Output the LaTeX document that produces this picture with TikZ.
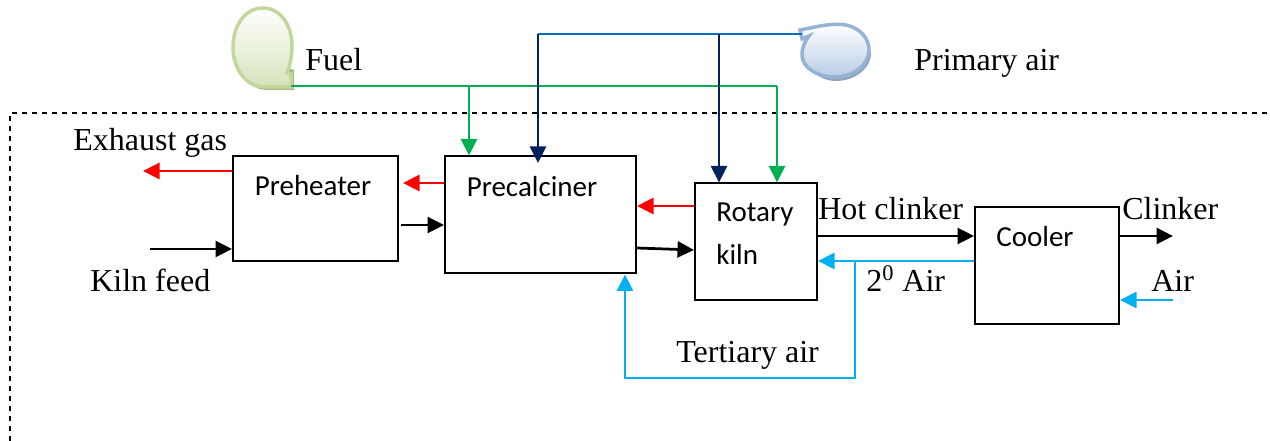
\documentclass[tikz,border=0pt]{standalone}
\usepackage{fontspec}
\setmainfont{Liberation Serif}
\newfontfamily\boxfont{Carlito}
\usetikzlibrary{arrows.meta}
\definecolor{flowGreen}{RGB}{0, 176, 80}
\definecolor{flowRed}{RGB}{255, 0, 0}
\definecolor{flowCyan}{RGB}{0, 176, 240}
\definecolor{flowNavy}{RGB}{0, 32, 96}
\definecolor{flowBlue}{RGB}{0, 112, 192}
\definecolor{fuelEdge}{RGB}{195, 214, 155}
\definecolor{fuelFill}{RGB}{214, 227, 188}
\definecolor{fuelShade}{RGB}{170, 186, 135}
\definecolor{airEdge}{RGB}{149, 179, 215}
\definecolor{airFill}{RGB}{184, 204, 228}
\definecolor{airShade}{RGB}{150, 165, 190}
\newcommand{\px}{0.2mm}
\tikzset{
  Block/.style    = {draw=black, line width=0.4mm, inner sep=0pt, anchor=north west},
  Lbl/.style      = {font=\fontsize{18.2}{22}\selectfont, inner sep=0pt},
  BoxLbl/.style   = {font=\boxfont\fontsize{16.5}{20}\selectfont, inner sep=0pt},
  Flow/.style     = {line width=0.55mm, -{Triangle[length=3.3mm, width=3.2mm]}},
  ThinFlow/.style = {line width=0.45mm, -{Triangle[length=3.3mm, width=3.2mm]}},
  Pipe/.style     = {line width=0.45mm},
  Frame/.style    = {line width=0.5mm, dash pattern=on 1mm off 1mm},
}

\begin{document}
\begin{tikzpicture}[x=\px, y=-\px]
\useasboundingbox (0,0) rectangle (1270,441);

% ======================= dashed boundary =================================
\draw[Frame] (10,441) -- (10,113) -- (1270,113);

% ======================= blocks ==========================================
\node[Block, minimum width=165*\px, minimum height=104.5*\px] (Preheater)   at (232,155.5) {};
\node[Block, minimum width=191*\px, minimum height=117*\px] (Precalciner) at (444,155.5) {};
\node[Block, minimum width=122*\px, minimum height=117*\px] (Kiln)        at (694,182.5) {};
\node[Block, minimum width=144*\px, minimum height=117*\px] (Cooler)      at (974,206.5) {};

\node[BoxLbl] (PreheaterLab)   at (313,186) {Preheater};
\node[BoxLbl] (PrecalcinerLab) at (532,187) {Precalciner};
\node[BoxLbl, anchor=west] (KilnLabA) at (716,215) {Rotary};
\node[BoxLbl, anchor=west] (KilnLabB) at (716,254) {kiln};
\node[BoxLbl] (CoolerLab)      at (1035,237) {Cooler};

% ======================= fans ============================================
\fill[fuelShade] (294,90) -- (268,90) .. controls (245,90) and (236,68) .. (236,50)
   -- (294,70) -- cycle;
\draw[fuelEdge, line width=0.7mm, top color=white, bottom color=fuelFill]
   (291,87) -- (265,87) .. controls (244,87) and (233,66) .. (233,48)
   .. controls (233,24) and (246,8) .. (263,8)
   .. controls (281,8) and (292,26) .. (292,46)
   .. controls (292,56) and (290,65) .. (287,73) -- (291,74) -- cycle;
\fill[airShade] (805,58) .. controls (807,70) and (820,81) .. (836,81)
   .. controls (855,81) and (872,68) .. (871,52) -- cycle;
\draw[airEdge, line width=0.7mm, top color=white, bottom color=airFill]
   (800,30) -- (820,26) .. controls (832,24) and (840,24) .. (846,25)
   .. controls (860,28) and (869,38) .. (869,50)
   .. controls (869,65) and (853,77) .. (835,77)
   .. controls (818,77) and (802,68) .. (802,55)
   .. controls (802,47) and (805,41) .. (809,36) -- (802,39) -- cycle;

% ======================= junctions and free ends =========================
\coordinate (FuelOut)   at (291,86);
\coordinate (FuelTeeA)  at (469,86);
\coordinate (FuelTeeB)  at (777,86);
\coordinate (AirOut)    at (802,34);
\coordinate (AirTeeA)   at (538,34);
\coordinate (AirTeeB)   at (719,34);
\coordinate (AirTipA)   at (538,163);
\coordinate (ExhaustEnd) at (143,171);
\coordinate (FeedStart) at (150,249);
\coordinate (PreRedEnd) at (403,183);
\coordinate (PreBlackStart) at (401,225);
\coordinate (KilnRedY)  at (0,206);
\coordinate (KilnBlackA) at (0,248);
\coordinate (KilnBlackB) at (0,250);
\coordinate (HotY)      at (0,236);
\coordinate (SecY)      at (0,261);
\coordinate (TeeSec)    at (855,261);
\coordinate (TerA)      at (855,378);
\coordinate (TerB)      at (625,378);
\coordinate (ClinkerEnd) at (1173,236);
\coordinate (AirStart)  at (1173,300);

% ======================= flows ===========================================
\draw[Pipe, flowGreen] (FuelOut) -- (FuelTeeB);
\draw[ThinFlow, flowGreen] (FuelTeeA) -- (FuelTeeA |- Precalciner.north);
\draw[ThinFlow, flowGreen] (FuelTeeB) -- (FuelTeeB |- Kiln.north);
\draw[Pipe, flowBlue]  (AirOut) -- (AirTeeA);
\draw[ThinFlow, flowNavy]  (AirTeeA) -- (AirTipA);
\draw[ThinFlow, flowNavy]  (AirTeeB) -- (AirTeeB |- Kiln.north);

\draw[Flow, flowRed] (Preheater.west |- ExhaustEnd) -- (ExhaustEnd);
\draw[Flow, black]   (FeedStart) -- (Preheater.west |- FeedStart);
\draw[Flow, flowRed] (Precalciner.west |- PreRedEnd) -- (PreRedEnd);
\draw[Flow, black]   (PreBlackStart) -- (Precalciner.west |- PreBlackStart);
\draw[Flow, flowRed] (Kiln.west |- KilnRedY) -- (Precalciner.east |- KilnRedY);
\draw[Flow, black]   (Precalciner.east |- KilnBlackA) -- (Kiln.west |- KilnBlackB);
\draw[Flow, black]   (Kiln.east |- HotY) -- (Cooler.west |- HotY);
\draw[ThinFlow, flowCyan] (Cooler.west |- SecY) -- (Kiln.east |- SecY);
\draw[ThinFlow, flowCyan] (TeeSec) -- (TerA) -- (TerB) -- (TerB |- Precalciner.south);
\draw[Flow, black]   (Cooler.east |- ClinkerEnd) -- (ClinkerEnd);
\draw[ThinFlow, flowCyan] (AirStart) -- (Cooler.east |- AirStart);

% ======================= labels ==========================================
\node[Lbl, anchor=base west] (FuelLab)    at (305,71)  {Fuel};
\node[Lbl, anchor=base west] (PrimaryLab) at (914,71)  {Primary air};
\node[Lbl, anchor=base west] (ExhaustLab) at (73,151)  {Exhaust gas};
\node[Lbl, anchor=base west] (FeedLab)    at (90,292)  {Kiln feed};
\node[Lbl, anchor=base west] (HotLab)     at (818,220) {Hot clinker};
\node[Lbl, anchor=base west] (ClinkerLab) at (1122,220) {Clinker};
\node[Lbl, anchor=base west] (SecLab)     at (866,292) {2\textsuperscript{0} Air};
\node[Lbl, anchor=base west] (AirLab)     at (1151,292) {Air};
\node[Lbl, anchor=base west] (TertLab)    at (676,362) {Tertiary air};

\end{tikzpicture}
\end{document}
